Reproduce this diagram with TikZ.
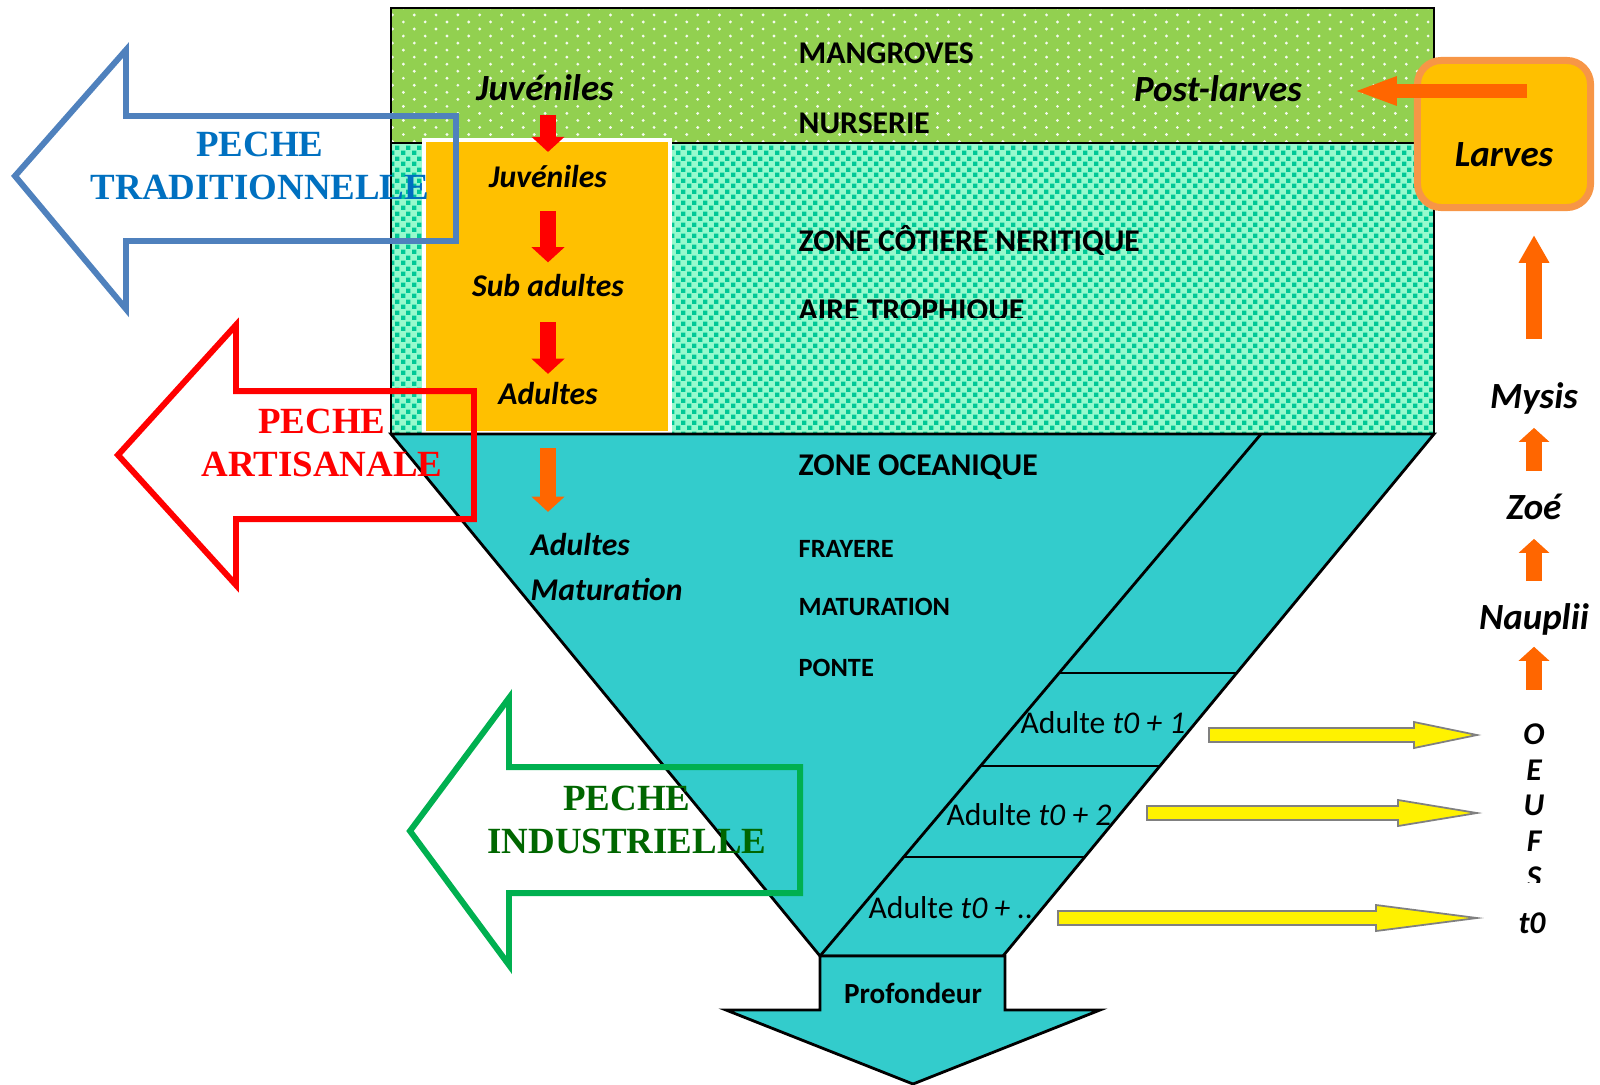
\documentclass[tikz,border=0pt]{standalone}
\usepackage{fontspec}
\setmainfont{Carlito}
\newfontfamily\timesfont{Liberation Serif}
\usetikzlibrary{arrows.meta,patterns}

\definecolor{mangrove}{HTML}{92D050}
\definecolor{neritic}{HTML}{96FACD}
\definecolor{neriticdot}{HTML}{00C896}
\definecolor{ocean}{HTML}{33CCCC}
\definecolor{gold}{HTML}{FFC000}
\definecolor{larvorange}{HTML}{F79646}
\definecolor{arroworange}{HTML}{FF6600}
\definecolor{tradblue}{HTML}{4F81BD}
\definecolor{tradtext}{HTML}{0070C0}
\definecolor{indgreen}{HTML}{00B050}
\definecolor{indtext}{HTML}{006600}

\pgfdeclarepatternformonly{mangrovedots}{\pgfqpoint{-.5pt}{-.5pt}}{\pgfqpoint{3.6pt}{2.5pt}}{\pgfqpoint{6.2pt}{4pt}}{
    \pgfpathcircle{\pgfqpoint{0pt}{0pt}}{.45pt}
    \pgfpathcircle{\pgfqpoint{3.1pt}{2pt}}{.45pt}
    \pgfusepath{fill}}
\pgfdeclarepatternformonly{neriticsquares}{\pgfqpoint{0pt}{0pt}}{\pgfqpoint{3pt}{3pt}}{\pgfqpoint{3pt}{3pt}}{
    \pgfpathrectangle{\pgfqpoint{0pt}{0pt}}{\pgfqpoint{1.3pt}{1.3pt}}
    \pgfpathrectangle{\pgfqpoint{1.5pt}{1.5pt}}{\pgfqpoint{1.3pt}{1.3pt}}
    \pgfusepath{fill}}

\begin{document}
\begin{tikzpicture}[x=0.01cm, y=-0.01cm,
    zonelabel/.style={anchor=west, inner sep=0pt, font=\bfseries\fontsize{9}{11}\selectfont},
    smalllabel/.style={anchor=west, inner sep=0pt, font=\bfseries\fontsize{7.5}{9}\selectfont},
    stage/.style={inner sep=0pt, text height=6.5pt, text depth=0pt, font=\bfseries\itshape\fontsize{9}{11}\selectfont},
    bigstage/.style={inner sep=0pt, text height=7.5pt, text depth=0pt, font=\bfseries\itshape\fontsize{10.5}{12}\selectfont},
    adulte/.style={inner sep=0pt, font=\fontsize{9}{11}\selectfont},
    peche/.style={align=center, inner sep=0pt, font=\timesfont\bfseries\fontsize{10.5}{12.2}\selectfont},
    growarrow/.style={red, line width=4.3pt, -{Triangle[width=9.4pt,length=4.3pt,line width=0pt]}, shorten <=6.5pt, shorten >=3pt},
    moultarrow/.style={arroworange, line width=4.3pt, -{Triangle[width=8.8pt,length=4pt,line width=0pt]}, shorten <=6pt, shorten >=5.4pt},
    fisharrow/.style={line width=1.7pt, line join=miter},
    eggarrow/.style={draw=gray, fill=yellow, line width=0.5pt}]
        \useasboundingbox (0,0) rectangle (1600,1084);

        \fill[mangrove] (391,8) rectangle (1434,143);
        \fill[pattern=mangrovedots, pattern color=white!90!mangrove] (391,8) rectangle (1434,143);
        \fill[neritic] (391,143) rectangle (1434,434);
        \fill[pattern=neriticsquares, pattern color=neriticdot] (391,143) rectangle (1434,434);
        \draw[line width=0.8pt] (391,8) rectangle (1434,143) (391,143) rectangle (1434,434);
        \filldraw[fill=gold, draw=white, line width=1pt] (424,140) rectangle (670,433);

        \filldraw[fill=ocean, line width=0.8pt] (391,434) -- (1434,434) -- (1003,956) -- (820,956) -- cycle;
        \draw[line width=0.8pt] (1261,434) -- (820,956);
        \draw[line width=0.8pt] (1059,673) -- (1237,673) (980,766) -- (1160,766) (904,857) -- (1085,857);
        \filldraw[fill=ocean, line width=0.8pt] (820,956) -- (820,1010) -- (726,1010) -- (913,1084) -- (1100,1010) -- (1005,1010) -- (1005,956) -- cycle;

        \node[zonelabel] (mangroves) at (798,53) {MANGROVES};
        \node[zonelabel] (nurserie) at (798,123) {NURSERIE};
        \node[zonelabel] (neritique) at (798,240) {ZONE CÔTIERE NERITIQUE};
        \begin{scope}
            \clip (780,290) rectangle (1100,317);
            \node[zonelabel] (trophique) at (798,312) {AIRE TROPHIQUE};
        \end{scope}
        \node[zonelabel] (oceanique) at (798,467) {ZONE OCEANIQUE};
        \node[smalllabel] (frayere) at (798,549) {FRAYERE};
        \node[smalllabel] (maturation) at (798,607) {MATURATION};
        \node[smalllabel] (ponte) at (798,668) {PONTE};

        \node[bigstage] (juvA) at (545,87) {Juvéniles};
        \node[bigstage] (postlarves) at (1218,88) {Post-larves};
        \node[stage] (juvB) at (548,176) {Juvéniles};
        \node[stage] (subB) at (548,285) {Sub adultes};
        \node[stage] (adB) at (548,393) {Adultes};
        \node[stage, anchor=west] (adM) at (530,544) {Adultes};
        \node[stage, anchor=west] (matM) at (530,589) {Maturation};

        \draw[growarrow, shorten <=4pt, shorten >=3.4pt] (juvA.south -| juvB) -- (juvB);
        \draw[growarrow] (juvB) -- (subB);
        \draw[growarrow, shorten <=7.1pt, shorten >=2pt] (subB) -- (adB);
        \draw[growarrow, arroworange, shorten <=12.2pt, shorten >=5.7pt] (adB) -- (adB |- adM.north);

        \node[adulte] (adulte1) at (1103,723) {Adulte \textit{t0 + 1}};
        \node[adulte] (adulte2) at (1029,815) {Adulte \textit{t0 + 2}};
        \node[adulte] (adulte3) at (951,908) {Adulte \textit{t0 + ..}};
        \node[inner sep=0pt, font=\bfseries\fontsize{8.3}{10}\selectfont] (profondeur) at (913,993) {Profondeur};

        \node[draw=larvorange, fill=gold, line width=2pt, rounded corners=6.8pt, minimum width=1.73cm, minimum height=1.47cm, inner sep=0pt] (larves) at (1504,134) {};
        \node[bigstage] (larvestext) at (1504,153) {Larves};
        \coordinate (larvesout) at (1527,91);
        \draw[arroworange, line width=4pt, -{Triangle[width=8.5pt,length=11.4pt,line width=0pt]}, shorten >=15.4pt] (larvesout) -- (larvesout -| postlarves.east);

        \node[bigstage] (mysis) at (1534,395) {Mysis};
        \node[bigstage] (zoe) at (1534,506) {Zoé};
        \node[bigstage] (nauplii) at (1534,616) {Nauplii};
        \foreach \l/\y in {O/733, E/769, U/804, F/840}
            \node[stage] (egg\l) at (1534,\y) {\l};
        \begin{scope}
            \clip (1500,850) rectangle (1570,882);
            \node[stage] (eggS) at (1534,876) {S};
        \end{scope}
        \node[stage] (eggt) at (1532,922) {t0};

        \draw[moultarrow, shorten <=8.8pt, shorten >=4.8pt] (eggO) -- (nauplii);
        \draw[moultarrow] (nauplii) -- (zoe);
        \draw[moultarrow] (zoe) -- (mysis);
        \draw[moultarrow, -{Triangle[width=8.8pt,length=7.7pt,line width=0pt]}, shorten <=12pt, shorten >=7pt] (mysis) -- (mysis |- larves.south);

        \foreach \xa/\xb/\y in {1209/1414/735, 1147/1398/813, 1058/1376/918}
            \filldraw[eggarrow] (\xa,\y-7) -- (\xb,\y-7) -- (\xb,\y-13) -- (1477,\y) -- (\xb,\y+13) -- (\xb,\y+7) -- (\xa,\y+7) -- cycle;

        \draw[fisharrow, tradblue] (15,176) -- (126,50) -- (126,116) -- (456,116) -- (456,241) -- (126,241) -- (126,309) -- cycle;
        \node[peche, text=tradtext] (traditionnelle) at (260,166) {PECHE\\TRADITIONNELLE};
        \draw[fisharrow, red] (118,455) -- (236,325) -- (236,391) -- (474,391) -- (474,519) -- (236,519) -- (236,585) -- cycle;
        \node[peche, text=red] (artisanale) at (322,443) {PECHE\\ARTISANALE};
        \draw[fisharrow, indgreen] (410,831) -- (509,698) -- (509,767) -- (800,767) -- (800,893) -- (509,893) -- (509,965) -- cycle;
        \node[peche, text=indtext] (industrielle) at (627,820) {PECHE\\INDUSTRIELLE};
    \end{tikzpicture}
\end{document}
